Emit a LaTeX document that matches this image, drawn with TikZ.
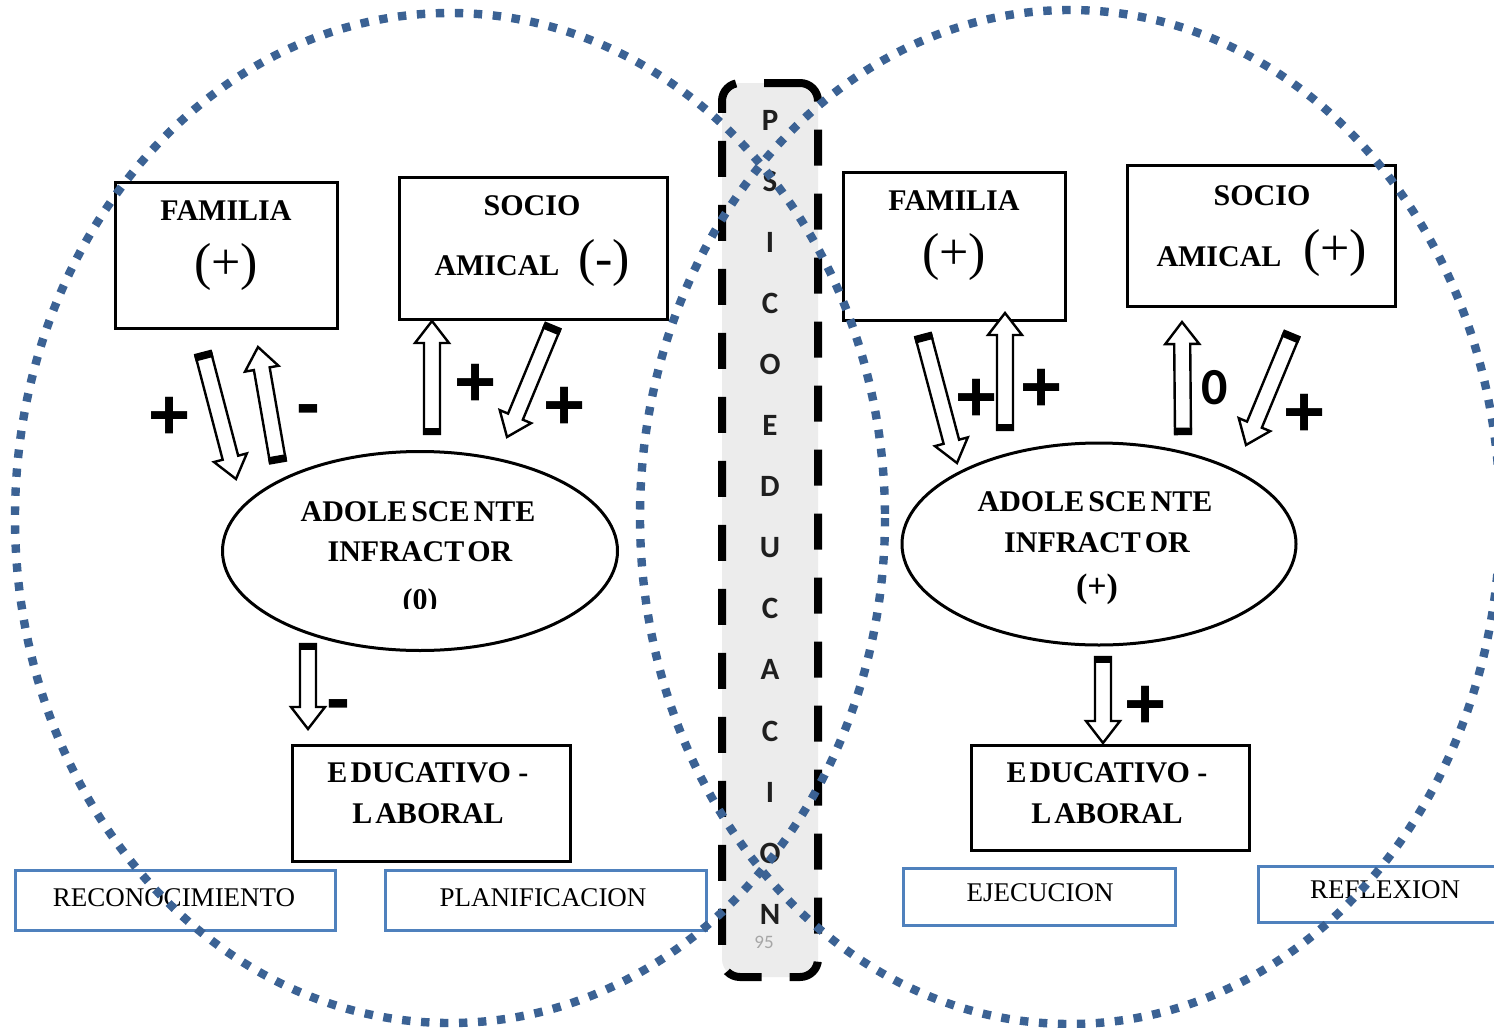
\documentclass[tikz,border=0pt]{standalone}
\usepackage{fontspec}
\setmainfont{Liberation Serif}
\newfontfamily\sansb{Liberation Sans}
\newfontfamily\calib{Carlito}
\usetikzlibrary{shapes.geometric}
\definecolor{dotblue}{RGB}{59,98,148}
\definecolor{boxblue}{RGB}{79,129,189}
\definecolor{colgray}{RGB}{236,236,236}
\tikzset{
  lab/.style={font=\fontsize{15}{18}\selectfont\bfseries, inner sep=0pt},
  paren/.style={font=\fontsize{26}{30}\selectfont, inner sep=0pt},
  sign/.style={font=\sansb\bfseries\fontsize{36}{40}\selectfont, inner sep=0pt},
  blk/.style={draw, line width=1.5pt, inner sep=0pt},
  oval/.style={draw, ellipse, line width=1.5pt, inner sep=0pt},
  bluebox/.style={draw=boxblue, line width=1.5pt, inner sep=0pt},
  bluelab/.style={font=\fontsize{13.5}{16}\selectfont, inner sep=0pt},
  colletter/.style={font=\calib\bfseries\fontsize{15.5}{18}\selectfont, text=black!88, inner sep=0pt},
  colbox/.style={draw, line width=4pt, dash pattern=on 18pt off 14pt, fill=colgray, rounded corners=9pt, inner sep=0pt},
  dotline/.style={draw=dotblue, line width=4.2pt, dash pattern=on 4.2pt off 5.3pt},
  barrowline/.style={draw, line width=1.2pt, fill=white, line join=miter}
}
\newcommand\barrow[2]{%
  \path (#1); \pgfgetlastxy{\bAx}{\bAy}%
  \path (#2); \pgfgetlastxy{\bBx}{\bBy}%
  \pgfmathsetmacro\bAng{atan2(\bBy-\bAy,\bBx-\bAx)}%
  \pgfmathsetmacro\bLen{veclen(\bBx-\bAx,\bBy-\bAy)}%
  \begin{scope}[shift={(#1)},rotate=\bAng,x=1pt,y=1pt]
    \path[barrowline] (0,-4) -- (\bLen-11,-4) -- (\bLen-11,-8.5) -- (\bLen,0)
       -- (\bLen-11,8.5) -- (\bLen-11,4) -- (0,4) -- cycle;
    \fill (0,-4.6) rectangle (3.2,4.6);
  \end{scope}}
\begin{document}
\begin{tikzpicture}[x=0.5pt,y=-0.5pt]
\useasboundingbox (0,0) rectangle (1494,1028);
\fill[white] (0,0) rectangle (1494,1028);

% central column
\node[colbox, minimum width=48pt, minimum height=447pt] (col) at (770,530) {};
\foreach \ch [count=\i from 0] in {P,S,I,C,O,E,D,U,C,A,C,I,O,N}{
  \node[colletter] (L\i) at (770,{120+61.1*\i}) {\ch};
}
\node[font=\calib\fontsize{9.5}{11}\selectfont, text=black!35, inner sep=0pt] (pg) at (764,942) {95};

% left system
\node[blk, minimum width=111pt, minimum height=73pt] (famL) at (226,255) {};
\node[lab] (famLt) at (226,211) {FAMILIA};
\node[paren] (famLv) at (226,267) {(+)};

\node[blk, minimum width=134pt, minimum height=71pt] (socL) at (533,248) {};
\node[lab] (socLt) at (532,206) {SOCIO};
\node[lab] (socLa) at (497,266) {AMICAL};
\node[paren] (socLv) at (604,263) {(-)};

\node[oval, minimum width=197.5pt, minimum height=99.5pt] (adL) at (420,551) {};
\node[lab] (adL1) at (418,512) {ADOLE\kern2pt SCE\kern2pt NTE};
\node[lab] (adL2) at (420,552) {INFRACT\kern1.5pt OR};
\begin{scope}
  \clip (330,570) rectangle (510,608);
  \node[lab] (adL3) at (420,602) {(0)};
\end{scope}

\node[blk, minimum width=139pt, minimum height=58pt] (eduL) at (431,803) {};
\node[lab] (eduL1) at (428,773) {E\kern1.5pt DUCATIVO -};
\node[lab] (eduL2) at (428,814) {L\kern1.5pt ABORAL};

% right system
\node[blk, minimum width=111pt, minimum height=74pt] (famR) at (954,246) {};
\node[lab] (famRt) at (954,201) {FAMILIA};
\node[paren] (famRv) at (954,257) {(+)};

\node[blk, minimum width=134pt, minimum height=70.5pt] (socR) at (1261,235.5) {};
\node[lab] (socRt) at (1262,196) {SOCIO};
\node[lab] (socRa) at (1219,257) {AMICAL};
\node[paren] (socRv) at (1335,253) {(+)};

\node[oval, minimum width=197pt, minimum height=101pt] (adR) at (1099,544) {};
\node[lab] (adR1) at (1095,502) {ADOLE\kern2pt SCE\kern2pt NTE};
\node[lab] (adR2) at (1097,543) {INFRACT\kern2pt OR};
\node[lab, font=\fontsize{17}{19}\selectfont\bfseries] (adR3) at (1097,589) {(+)};

\node[blk, minimum width=139pt, minimum height=52.5pt] (eduR) at (1110,797.5) {};
\node[lab] (eduR1) at (1107,773) {E\kern1.5pt DUCATIVO -};
\node[lab] (eduR2) at (1107,814) {L\kern1.5pt ABORAL};

% arrow end points
\coordinate (a1s) at (203,353); \coordinate (a1e) at (236,479);
\coordinate (a2s) at (278,462); \coordinate (a2e) at (258,347);
\coordinate (a3s) at (432,434); \coordinate (a3e) at (432,321);
\coordinate (a4s) at (553,326); \coordinate (a4e) at (507,437);
\coordinate (a5s) at (308,644); \coordinate (a5e) at (308,729);
\coordinate (b1s) at (923,335); \coordinate (b1e) at (957,463);
\coordinate (b2s) at (1005,430); \coordinate (b2e) at (1005,313);
\coordinate (b3s) at (1183,434); \coordinate (b3e) at (1182,322);
\coordinate (b4s) at (1292,334); \coordinate (b4e) at (1246,445);
\coordinate (b5s) at (1103,657); \coordinate (b5e) at (1103,743);
\barrow{a1s}{a1e}\barrow{a2s}{a2e}\barrow{a3s}{a3e}\barrow{a4s}{a4e}\barrow{a5s}{a5e}
\barrow{b1s}{b1e}\barrow{b2s}{b2e}\barrow{b3s}{b3e}\barrow{b4s}{b4e}\barrow{b5s}{b5e}

% signs
\node[sign] (s1) at (170,418) {+};
\node[sign] (s2) at (308,416) {-};
\node[sign] (s3) at (476,385) {+};
\node[sign] (s4) at (565,408) {+};
\node[sign] (s5) at (338,711) {-};
\node[sign] (s6) at (977,400) {+};
\node[sign] (s7) at (1042,390) {+};
\node[font=\calib\bfseries\fontsize{26}{30}\selectfont, inner sep=0pt] (s8) at (1215,388) {0};
\node[sign] (s9) at (1305,415) {+};
\node[sign] (s10) at (1146,707) {+};

% phase boxes
\node[bluebox, minimum width=160pt, minimum height=30pt] (rec) at (175,900) {};
\node[bluelab] (rect) at (174,898) {RECONOCIMIENTO};
\node[bluebox, minimum width=160.5pt, minimum height=30pt] (pla) at (545.5,900) {};
\node[bluelab] (plat) at (543,898) {PLANIFICACION};
\node[bluebox, minimum width=136pt, minimum height=28.5pt] (eje) at (1039,896.5) {};
\node[bluelab] (ejet) at (1040,893) {EJECUCION};
\node[bluebox, minimum width=121pt, minimum height=28pt] (ref) at (1379,894) {};
\node[bluelab] (reft) at (1385,890) {REFLEXION};

% dotted circles
\draw[dotline] (450,518) ellipse [x radius=435, y radius=505];
\draw[dotline] (1070,517) ellipse [x radius=430, y radius=507];
\end{tikzpicture}
\end{document}
